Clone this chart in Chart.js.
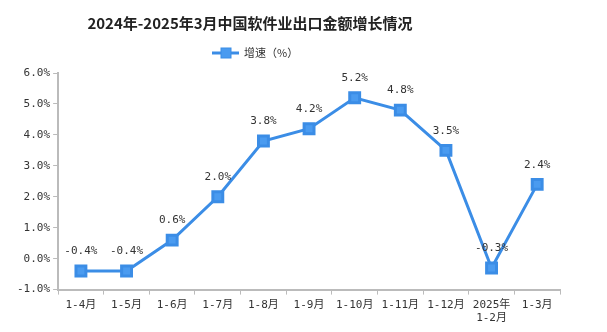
<!DOCTYPE html>
<html>
<head>
<meta charset="utf-8">
<script src="https://cdn.jsdelivr.net/npm/chart.js@4"></script>
<style>
  body { margin: 0; background: #fff; }
  #wrap { width: 607px; height: 332px; }
</style>
</head>
<body>
<div id="wrap"><canvas id="growth"></canvas></div>
<script>
const months = ['1-4月', '1-5月', '1-6月', '1-7月', '1-8月', '1-9月', '1-10月', '1-11月', '1-12月', ['2025年', '1-2月'], '1-3月'];
const growth = [-0.4, -0.4, 0.6, 2.0, 3.8, 4.2, 5.2, 4.8, 3.5, -0.3, 2.4];
const yTicks = [-1, 0, 1, 2, 3, 4, 5, 6];

const FONT = '"Noto Sans CJK SC", "DejaVu Sans", sans-serif';
const MONO = '"DejaVu Sans Mono", "Noto Sans CJK SC", monospace';
const LINE = '#3b8de6';
const FILL = '#4a9bf0';

// value text above each point
const pointLabels = {
  id: 'pointLabels',
  afterDatasetsDraw(chart) {
    const ctx = chart.ctx;
    const meta = chart.getDatasetMeta(0);
    ctx.save();
    ctx.font = '11px ' + MONO;
    ctx.fillStyle = '#333';
    ctx.textAlign = 'center';
    ctx.textBaseline = 'bottom';
    meta.data.forEach((pt, i) => {
      ctx.fillText(growth[i].toFixed(1) + '%', pt.x, pt.y - 14);
    });
    ctx.restore();
  }
};

// heading and legend sit left of centre, above the plot
const header = {
  id: 'header',
  afterDraw(chart) {
    const ctx = chart.ctx;
    const ds = chart.data.datasets[0];
    ctx.save();
    ctx.font = 'bold 15px ' + FONT;
    ctx.fillStyle = '#222';
    ctx.textAlign = 'center';
    ctx.textBaseline = 'middle';
    ctx.fillText('2024年-2025年3月中国软件业出口金额增长情况', 250, 23);

    // legend swatch: line with a square marker
    ctx.strokeStyle = LINE;
    ctx.lineWidth = 3;
    ctx.beginPath();
    ctx.moveTo(212, 53);
    ctx.lineTo(239, 53);
    ctx.stroke();
    ctx.fillStyle = FILL;
    ctx.fillRect(221, 48, 10, 10);
    ctx.lineWidth = 1;
    ctx.strokeRect(221, 48, 10, 10);

    ctx.font = '11px ' + FONT;
    ctx.fillStyle = '#333';
    ctx.textAlign = 'left';
    ctx.fillText(ds.label, 244, 53);
    ctx.restore();
  }
};

new Chart(document.getElementById('growth'), {
  type: 'line',
  data: {
    labels: months,
    datasets: [{
      label: '增速（%）',
      data: growth,
      borderColor: LINE,
      backgroundColor: FILL,
      pointBorderColor: LINE,
      borderWidth: 3,
      pointStyle: 'rect',
      pointRadius: 7,
      pointHoverRadius: 7,
      tension: 0
    }]
  },
  plugins: [pointLabels, header],
  options: {
    responsive: true,
    maintainAspectRatio: false,
    animation: false,
    layout: { padding: { left: 14, right: 47, top: 73, bottom: 3 } },
    plugins: {
      title: { display: false },
      legend: { display: false },
      tooltip: { enabled: false }
    },
    scales: {
      x: {
        offset: true,
        grid: { display: true, drawOnChartArea: false, offset: true, color: '#bbb', tickLength: 5 },
        border: { color: '#bbb', width: 2 },
        ticks: { font: { family: MONO, size: 11 }, color: '#333', maxRotation: 0, autoSkip: false, padding: 4 }
      },
      y: {
        min: -1,
        max: 6,
        afterBuildTicks(axis) { axis.ticks = yTicks.map(v => ({ value: v })); },
        grid: { display: true, drawOnChartArea: false, color: '#bbb', tickLength: 5 },
        border: { color: '#bbb', width: 2 },
        ticks: {
          font: { family: MONO, size: 11 },
          color: '#333',
          padding: 3,
          callback: v => v.toFixed(1) + '%'
        }
      }
    }
  }
});
</script>
</body>
</html>
